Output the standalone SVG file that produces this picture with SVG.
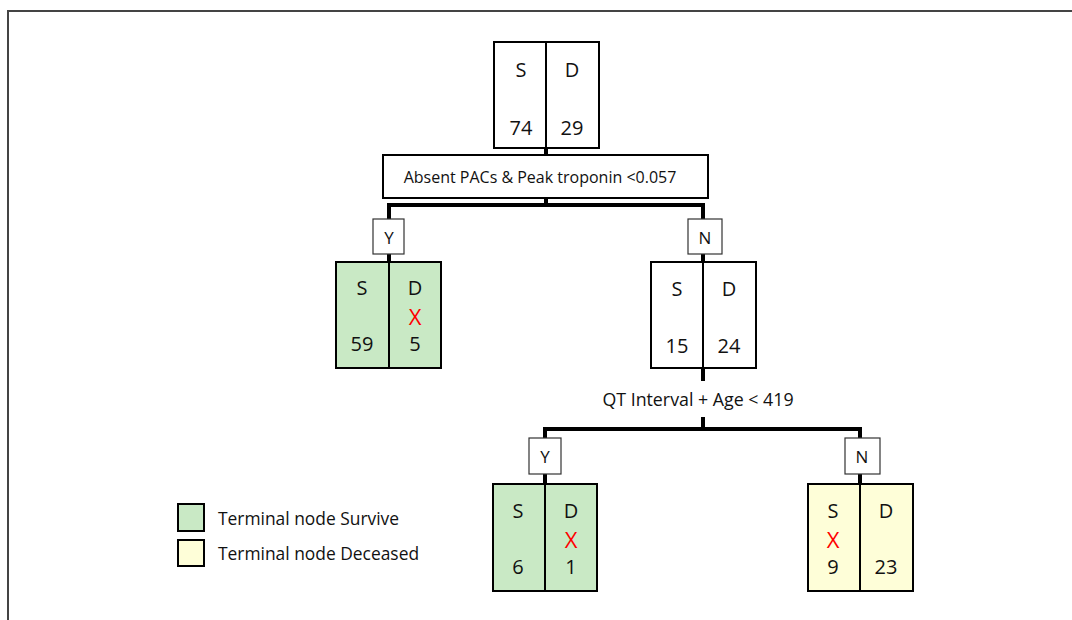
<svg xmlns="http://www.w3.org/2000/svg" width="1072" height="620" viewBox="0 0 1072 620">
  <style>
    .box { stroke: #000; stroke-width: 2; }
    .plain { fill: #fff; }
    .surv { fill: #c9e9c5; }
    .dec { fill: #fefed8; }
    .div { stroke: #000; stroke-width: 2; }
    .t { font-family: "Open Sans", "Liberation Sans", sans-serif; font-size: 20px; fill: #111; text-anchor: middle; dominant-baseline: central; }
    .lbl { font-family: "Open Sans", "Liberation Sans", sans-serif; font-size: 16px; fill: #111; text-anchor: middle; dominant-baseline: central; }
    .tg { font-family: "Open Sans", "Liberation Sans", sans-serif; font-size: 17px; fill: #111; text-anchor: middle; dominant-baseline: central; }
    .cond { font-family: "Open Sans", "Liberation Sans", sans-serif; font-size: 17.8px; fill: #111; text-anchor: middle; dominant-baseline: central; }
    .leg { font-family: "Open Sans", "Liberation Sans", sans-serif; font-size: 17.4px; fill: #111; dominant-baseline: central; }
    .x { font-family: "Open Sans", "Liberation Sans", sans-serif; font-size: 22px; fill: #f00; text-anchor: middle; dominant-baseline: central; }
    .edge { stroke: #000; stroke-width: 4; fill: none; }
    .tag { fill: #fff; stroke: #333; stroke-width: 1.2; }
  </style>

  <rect width="1072" height="620" fill="#fff"/>
  <!-- frame -->
  <path d="M8 620 V11 H1072" fill="none" stroke="#444" stroke-width="2"/>

  <!-- connectors -->
  <g id="connectors">
    <path class="edge" d="M546 148 V155"/>
    <path class="edge" d="M546 198 V205 M389 205 H703 M389 203 V262 M703 203 V262"/>
    <path class="edge" d="M703 368 V381 M703 417 V429 M545 429 H860 M545 427 V484 M860 427 V484"/>
  </g>

  <!-- root -->
  <g id="root">
    <rect class="box plain" x="494" y="42" width="105" height="106"/>
    <line class="div" x1="546" y1="42" x2="546" y2="148"/>
    <text class="t" x="521" y="69">S</text>
    <text class="t" x="572" y="69">D</text>
    <text class="t" x="521" y="127">74</text>
    <text class="t" x="572" y="127">29</text>
  </g>

  <g id="split1">
    <rect class="box plain" x="383" y="155" width="325" height="43"/>
    <text class="lbl" x="540" y="177">Absent PACs &amp; Peak troponin &lt;0.057</text>
  </g>

  <g id="tag-y1">
    <rect class="tag" x="373" y="219" width="31" height="35"/>
    <text class="tg" x="389" y="237">Y</text>
  </g>
  <g id="tag-n1">
    <rect class="tag" x="688" y="219" width="34" height="35"/>
    <text class="tg" x="705" y="237">N</text>
  </g>

  <!-- terminal: survive -->
  <g id="leaf-left">
    <rect class="box surv" x="336" y="262" width="105" height="106"/>
    <line class="div" x1="389" y1="262" x2="389" y2="368"/>
    <text class="t" x="362" y="287">S</text>
    <text class="t" x="415" y="287">D</text>
    <text class="x" x="415" y="316">X</text>
    <text class="t" x="362" y="343">59</text>
    <text class="t" x="415" y="343">5</text>
  </g>

  <g id="node-n">
    <rect class="box plain" x="651" y="262" width="105" height="106"/>
    <line class="div" x1="703" y1="262" x2="703" y2="368"/>
    <text class="t" x="677" y="288">S</text>
    <text class="t" x="729" y="288">D</text>
    <text class="t" x="677" y="345">15</text>
    <text class="t" x="729" y="345">24</text>
  </g>

  <g id="split2">
    <text class="cond" x="698" y="399">QT Interval + Age &lt; 419</text>
  </g>

  <g id="tag-y2">
    <rect class="tag" x="529" y="438" width="32" height="36"/>
    <text class="tg" x="545" y="456">Y</text>
  </g>
  <g id="tag-n2">
    <rect class="tag" x="845" y="438" width="35" height="36"/>
    <text class="tg" x="862" y="456">N</text>
  </g>

  <g id="leaf-mid">
    <rect class="box surv" x="493" y="484" width="104" height="107"/>
    <line class="div" x1="545" y1="484" x2="545" y2="591"/>
    <text class="t" x="518" y="510">S</text>
    <text class="t" x="571" y="510">D</text>
    <text class="x" x="571" y="539">X</text>
    <text class="t" x="518" y="566">6</text>
    <text class="t" x="571" y="566">1</text>
  </g>

  <g id="leaf-right">
    <rect class="box dec" x="808" y="484" width="105" height="107"/>
    <line class="div" x1="860" y1="484" x2="860" y2="591"/>
    <text class="t" x="833" y="510">S</text>
    <text class="t" x="886" y="510">D</text>
    <text class="x" x="833" y="539">X</text>
    <text class="t" x="833" y="566">9</text>
    <text class="t" x="886" y="566">23</text>
  </g>

  <!-- legend -->
  <g id="legend">
    <rect class="box surv" x="178" y="504" width="26" height="27"/>
    <text class="leg" x="218" y="518">Terminal node Survive</text>
    <rect class="box dec" x="178" y="540" width="26" height="26"/>
    <text class="leg" x="218" y="553">Terminal node Deceased</text>
  </g>
</svg>
